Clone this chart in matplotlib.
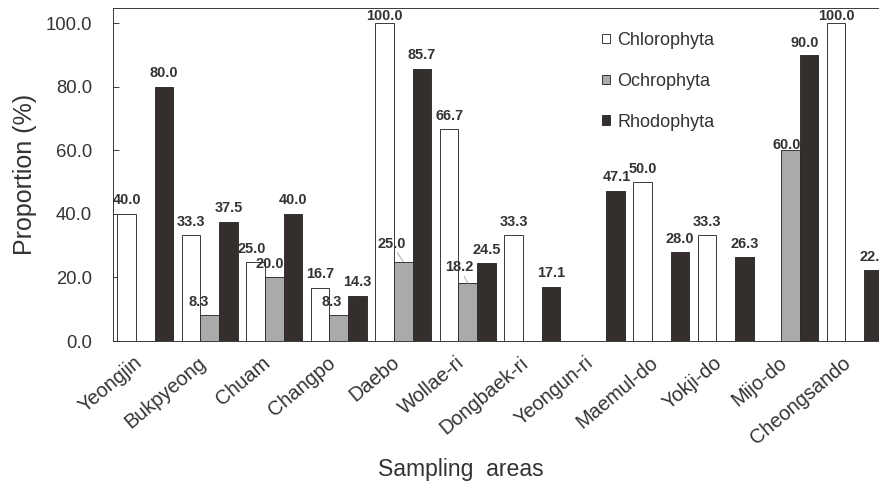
import matplotlib

matplotlib.use("Agg")
import matplotlib.pyplot as plt
from matplotlib.patches import Patch
import numpy as np

# data
areas = ["Yeongjin", "Bukpyeong", "Chuam", "Changpo", "Daebo", "Wollae-ri",
         "Dongbaek-ri", "Yeongun-ri", "Maemul-do", "Yokji-do", "Mijo-do", "Cheongsando"]
chlorophyta = [40.0, 33.3, 25.0, 16.7, 100.0, 66.7, 33.3, 0.0, 50.0, 33.3, 0.0, 100.0]
ochrophyta = [0.0, 8.3, 20.0, 8.3, 25.0, 18.2, 0.0, 0.0, 0.0, 0.0, 60.0, 0.0]
rhodophyta = [80.0, 37.5, 40.0, 14.3, 85.7, 24.5, 17.1, 47.1, 28.0, 26.3, 90.0, 22.2]
yticks = [0, 20, 40, 60, 80, 100]

plt.rcParams["font.family"] = ["Liberation Sans", "DejaVu Sans"]
TXT = "#333333"

# dpi 72 -> 1 pt == 1 px
fig = plt.figure(figsize=(879 / 72, 482 / 72), dpi=72)
W, H = 879, 482
ax = fig.add_axes([113 / W, (H - 341) / H, 774 / W, 333.5 / H])

x = np.arange(len(areas))
w = 0.288
series = [
    ("Chlorophyta", chlorophyta, "white"),
    ("Ochrophyta", ochrophyta, "#aaaaaa"),
    ("Rhodophyta", rhodophyta, "#342f2c"),
]

# label offsets (px) for the crowded ones: (dx, dy, leader line)
default_off = (0, 13.5, False)
label_off = {
    (0, 2): (-4, 13, False),
    (0, 4): (0, 7, False),
    (0, 11): (0, 7, False),
    (1, 1): (-11, 13, False),
    (1, 2): (-5, 13, False),
    (1, 3): (-7, 13, False),
    (1, 4): (-12, 18, True),
    (1, 5): (-8, 16, True),
    (1, 10): (-4, 5, False),
    (2, 7): (2, 14, False),
    (2, 10): (-4, 12, False),
}

for k, (name, vals, col) in enumerate(series):
    xs = x + (k - 1) * w
    ax.bar(xs, vals, width=w, color=col, edgecolor="#2a2a2a", linewidth=0.9, zorder=2)
    for i, v in enumerate(vals):
        if v <= 0:
            continue
        dx, dy, leader = label_off.get((k, i), default_off)
        kw = {}
        if leader:
            kw["arrowprops"] = dict(arrowstyle="-", color="#999999", lw=0.8,
                                    shrinkA=0, shrinkB=0)
        ax.annotate(f"{v:.1f}", xy=(xs[i], v), xytext=(dx, dy),
                    textcoords="offset points", ha="center", va="center",
                    fontsize=14.5, fontweight="bold", color=TXT, zorder=3, **kw)

ax.set_xlim(-0.5, 11.5)
ax.set_ylim(0, 105)
ax.set_yticks(yticks)
ax.set_yticklabels([f"{t:.1f}" for t in yticks])
ax.tick_params(axis="y", direction="in", length=6, width=0.9, pad=21,
               labelsize=18.5, labelcolor=TXT, color="#2a2a2a")
ax.set_xticks(x)
ax.set_xticklabels(areas, rotation=40, ha="right")
ax.tick_params(axis="x", length=0, pad=12, labelsize=20, labelcolor=TXT)

for s in ["left", "bottom", "top"]:
    ax.spines[s].set_color("#2a2a2a")
    ax.spines[s].set_linewidth(0.9)
ax.spines["right"].set_visible(False)

ax.set_ylabel("Proportion (%)", fontsize=25, color=TXT)
ax.yaxis.set_label_coords(-76 / 774, 0.5)
ax.set_xlabel("Sampling  areas", fontsize=23, color=TXT)
ax.xaxis.set_label_coords((461 - 113) / 774, -0.35)

handles = [Patch(facecolor=c, edgecolor="#2a2a2a", linewidth=0.9) for _, _, c in series]
ax.legend(handles, [n for n, _, _ in series], loc="upper left",
          bbox_to_anchor=(602 / W, (H - 32) / H), bbox_transform=fig.transFigure,
          frameon=False, fontsize=18, handlelength=0.45, handleheight=0.45,
          handletextpad=0.4, labelspacing=1.32, borderpad=0, borderaxespad=0,
          labelcolor=TXT)

fig.savefig("out.png", dpi=72)
